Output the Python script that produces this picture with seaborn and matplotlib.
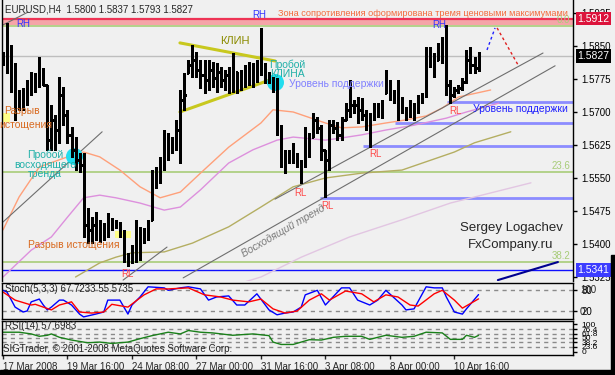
import numpy as np
import pandas as pd
import matplotlib
matplotlib.use("Agg")
import matplotlib.pyplot as plt
import seaborn as sns
from matplotlib.patches import Rectangle

# ---- price data (EURUSD H4), one entry per bar ----
highs = [
    1.5836, 1.5902, 1.5852, 1.5811, 1.5750, 1.5755, 1.5773, 1.5791, 1.5789, 1.5825,
    1.5800, 1.5761, 1.5716, 1.5693, 1.5780, 1.5757, 1.5705, 1.5666, 1.5643, 1.5607,
    1.5607, 1.5482, 1.5461, 1.5473, 1.5455, 1.5448, 1.5470, 1.5459, 1.5455, 1.5450,
    1.5432, 1.5380, 1.5398, 1.5455, 1.5439, 1.5436, 1.5455, 1.5568, 1.5575, 1.5598,
    1.5659, 1.5652, 1.5643, 1.5682, 1.5750, 1.5789, 1.5818, 1.5852, 1.5836, 1.5818,
    1.5818, 1.5818, 1.5814, 1.5811, 1.5802, 1.5795, 1.5802, 1.5834, 1.5791, 1.5795,
    1.5807, 1.5814, 1.5811, 1.5818, 1.5891, 1.5811, 1.5791, 1.5780, 1.5777, 1.5670,
    1.5614, 1.5614, 1.5630, 1.5607, 1.5591, 1.5666, 1.5652, 1.5698, 1.5689, 1.5670,
    1.5614, 1.5682, 1.5682, 1.5677, 1.5689, 1.5720, 1.5773, 1.5727, 1.5734, 1.5732,
    1.5705, 1.5698, 1.5720, 1.5720, 1.5727, 1.5795, 1.5773, 1.5750, 1.5773, 1.5734,
    1.5711, 1.5727, 1.5720, 1.5739, 1.5743, 1.5848, 1.5848, 1.5834, 1.5857, 1.5870,
    1.5898, 1.5773, 1.5757, 1.5761, 1.5777, 1.5841, 1.5848, 1.5825, 1.5837]
lows = [
    1.5807, 1.5789, 1.5745, 1.5682, 1.5705, 1.5705, 1.5716, 1.5739, 1.5745, 1.5757,
    1.5761, 1.5614, 1.5614, 1.5614, 1.5630, 1.5670, 1.5630, 1.5598, 1.5568, 1.5564,
    1.5416, 1.5402, 1.5402, 1.5409, 1.5405, 1.5409, 1.5416, 1.5432, 1.5436, 1.5416,
    1.5359, 1.5350, 1.5357, 1.5359, 1.5364, 1.5402, 1.5409, 1.5455, 1.5527, 1.5539,
    1.5568, 1.5591, 1.5607, 1.5614, 1.5584, 1.5705, 1.5789, 1.5780, 1.5780, 1.5755,
    1.5743, 1.5750, 1.5757, 1.5745, 1.5757, 1.5750, 1.5743, 1.5745, 1.5743, 1.5750,
    1.5757, 1.5761, 1.5757, 1.5768, 1.5784, 1.5766, 1.5766, 1.5745, 1.5648, 1.5575,
    1.5561, 1.5584, 1.5584, 1.5575, 1.5539, 1.5575, 1.5598, 1.5643, 1.5652, 1.5591,
    1.5507, 1.5568, 1.5652, 1.5636, 1.5636, 1.5682, 1.5689, 1.5698, 1.5675, 1.5682,
    1.5659, 1.5620, 1.5682, 1.5689, 1.5686, 1.5743, 1.5727, 1.5720, 1.5682, 1.5698,
    1.5682, 1.5689, 1.5682, 1.5698, 1.5720, 1.5734, 1.5802, 1.5780, 1.5818, 1.5811,
    1.5739, 1.5720, 1.5734, 1.5743, 1.5750, 1.5766, 1.5789, 1.5789, 1.5793]
closes = [
    1.5818, 1.5841, 1.5784, 1.5739, 1.5727, 1.5739, 1.5755, 1.5768, 1.5777, 1.5773,
    1.5761, 1.5636, 1.5682, 1.5659, 1.5739, 1.5693, 1.5648, 1.5614, 1.5591, 1.5580,
    1.5443, 1.5432, 1.5443, 1.5427, 1.5436, 1.5432, 1.5455, 1.5443, 1.5445, 1.5420,
    1.5375, 1.5364, 1.5386, 1.5420, 1.5427, 1.5420, 1.5443, 1.5545, 1.5557, 1.5580,
    1.5614, 1.5625, 1.5636, 1.5659, 1.5727, 1.5739, 1.5807, 1.5818, 1.5795, 1.5784,
    1.5773, 1.5795, 1.5777, 1.5791, 1.5773, 1.5784, 1.5761, 1.5795, 1.5773, 1.5784,
    1.5777, 1.5795, 1.5784, 1.5800, 1.5807, 1.5784, 1.5777, 1.5761, 1.5659, 1.5602,
    1.5591, 1.5602, 1.5591, 1.5586, 1.5580, 1.5636, 1.5625, 1.5682, 1.5664, 1.5614,
    1.5591, 1.5670, 1.5664, 1.5648, 1.5682, 1.5705, 1.5716, 1.5716, 1.5705, 1.5693,
    1.5682, 1.5686, 1.5705, 1.5709, 1.5720, 1.5761, 1.5745, 1.5739, 1.5727, 1.5709,
    1.5705, 1.5716, 1.5709, 1.5727, 1.5739, 1.5830, 1.5818, 1.5807, 1.5841, 1.5852,
    1.5761, 1.5739, 1.5750, 1.5755, 1.5768, 1.5818, 1.5807, 1.5800, 1.5827]
first_open = 1.5830

# moving averages (bar index, price)
ma_orange_idx = [0, 4, 9, 16, 20, 24, 29, 34, 39, 44, 49, 56, 64, 67, 72, 80, 84, 89, 95, 100, 105, 109, 113, 121]
ma_orange = [1.5432, 1.5507, 1.5575, 1.5598, 1.5609, 1.5598, 1.5568, 1.5530, 1.5505, 1.5518, 1.5561, 1.5620,
             1.5675, 1.5705, 1.5700, 1.5675, 1.5664, 1.5666, 1.5675, 1.5682, 1.5691, 1.5709, 1.5734, 1.5750]
ma_violet_idx = [0, 7, 12, 16, 20, 24, 28, 34, 40, 44, 49, 56, 62, 68, 72, 80, 84, 89, 95, 102, 110, 115, 123]
ma_violet = [1.5325, 1.5386, 1.5416, 1.5461, 1.5505, 1.5511, 1.5505, 1.5493, 1.5477, 1.5484, 1.5523, 1.5584,
             1.5614, 1.5636, 1.5643, 1.5636, 1.5641, 1.5648, 1.5659, 1.5670, 1.5686, 1.5700, 1.5720]
ma_olive_idx = [18, 24, 28, 32, 40, 47, 56, 64, 72, 80, 89, 99, 112, 117, 126]
ma_olive = [1.5325, 1.5357, 1.5370, 1.5380, 1.5382, 1.5402, 1.5439, 1.5484, 1.5530, 1.5550, 1.5561, 1.5568,
            1.5609, 1.5630, 1.5655]
ma_thistle_idx = [59, 64, 74, 86, 99, 111, 131]
ma_thistle = [1.5311, 1.5325, 1.5370, 1.5416, 1.5455, 1.5493, 1.5539]

# stochastic (5,3,3)
stoch_idx = [0, 1, 3, 5, 6, 7, 9, 10, 11, 12, 14, 15, 17, 19, 20, 23, 25, 26, 29, 31,
             32, 34, 36, 40, 41, 44, 46, 49, 51, 53, 56, 58, 60, 63, 66, 68, 70, 72, 74, 75,
             78, 80, 84, 86, 88, 91, 93, 95, 99, 100, 102, 105, 107, 109, 110, 112, 114, 115, 118]
stoch_k = [80, 75, 32, 18, 21, 47, 55, 38, 24, 32, 52, 52, 38, 12, 4, 12, 18, 52, 52, 12,
           38, 61, 90, 87, 80, 87, 90, 84, 52, 61, 64, 38, 38, 70, 24, 10, 15, 18, 32, 67,
           80, 38, 87, 87, 52, 38, 52, 80, 38, 24, 27, 90, 87, 87, 61, 18, 12, 27, 67.72]
signal_idx = [0, 3, 7, 8, 12, 14, 17, 19, 22, 25, 27, 31, 35, 38, 41, 46, 50, 54, 57, 61,
              64, 67, 70, 73, 76, 79, 81, 85, 89, 92, 95, 98, 101, 103, 107, 109, 112, 114, 118]
stoch_d = [75, 52, 38, 40, 24, 38, 47, 18, 15, 18, 40, 32, 67, 84, 84, 87, 67, 61, 52, 47,
           55, 27, 15, 21, 52, 70, 52, 78, 70, 47, 67, 61, 38, 35, 70, 80, 52, 29, 55.57]

# RSI(14)
rsi_idx = [0, 4, 7, 9, 11, 12, 14, 17, 21, 24, 27, 31, 34, 37, 41, 44, 46, 49, 52, 57,
           62, 66, 67, 69, 72, 74, 76, 79, 82, 85, 89, 91, 95, 99, 102, 105, 109, 111, 114, 115, 117, 118]
rsi = [67, 67, 62, 55, 58, 62, 52, 44, 36, 38, 34, 38, 48, 57, 67, 62, 72, 67, 65, 58,
       62, 57, 38, 31, 31, 38, 45, 44, 52, 55, 55, 46, 58, 52, 55, 67, 65, 46, 46, 58, 52, 57.70]

date_idx = [0, 16, 32, 48, 64, 80, 96, 112]
date_labels = ["17 Mar 2008", "19 Mar 16:00", "24 Mar 08:00", "27 Mar 00:00",
               "31 Mar 16:00", "3 Apr 08:00", "8 Apr 00:00", "10 Apr 16:00"]
price_ticks = [1.5925, 1.5850, 1.5775, 1.5700, 1.5625, 1.5550, 1.5475, 1.5400, 1.5325]

resist_top, resist_bottom = 1.5911, 1.5897
fib_levels = [(1.5895, "0.0"), (1.5564, "23.6"), (1.5359, "38.2")]
support_levels = [(1.5723, 110.2), (1.5675, 97.3), (1.5623, 89.3), (1.5505, 78.7)]
blue_level = 1.5341
last_price = 1.5827

# ---- drawing ----
BG = "#F0F0F0"
sns.set_style("white")
plt.rcParams["font.family"] = ["Liberation Sans", "DejaVu Sans"]
plt.rcParams["font.size"] = 7

W, H = 615, 375
def fx(x): return x / W
def fy(y): return 1 - y / H

fig = plt.figure(figsize=(6.15, 3.75), dpi=100, facecolor=BG)
ax = fig.add_axes([fx(2), fy(281), 571 / W, 281 / H], facecolor=BG)
ax2 = fig.add_axes([fx(2), fy(319), 571 / W, 36 / H], facecolor=BG, sharex=ax)
ax3 = fig.add_axes([fx(2), fy(355), 571 / W, 34 / H], facecolor=BG, sharex=ax)

n = len(closes)
idx = np.arange(n)
opens = np.clip(np.r_[first_open, closes[:-1]], lows, highs)

ax.set_xlim(-0.25, 141.44)
ax.set_ylim(1.53159, 1.59545)

# levels and zones
ax.axhspan(resist_bottom, resist_top, color="#F5A5A8", lw=0, zorder=1)
ax.axhline(resist_top, color="#EE3355", lw=1.6, zorder=1)
for lvl, lab in fib_levels:
    ax.axhline(lvl, color="#A8CC78", lw=1.2, zorder=1)
    ax.text(140.7, lvl + 0.0002, lab, color="#A8CC78", ha="right", va="bottom", fontsize=7)
ax.axhline(last_price, color="#BEBEBE", lw=1, zorder=1)
ax.axhline(blue_level, color="#1010FF", lw=1, zorder=1)
for lvl, start in support_levels:
    ax.hlines(lvl, start, 141.44, color="#8C8CFF", lw=2, zorder=1)

# moving averages
sns.lineplot(x=ma_thistle_idx, y=ma_thistle, ax=ax, color="#E2C6E2", lw=1, sort=False, estimator=None)
sns.lineplot(x=ma_olive_idx, y=ma_olive, ax=ax, color="#B4AE62", lw=1, sort=False, estimator=None)
sns.lineplot(x=ma_violet_idx, y=ma_violet, ax=ax, color="#DD90DD", lw=1, sort=False, estimator=None)
sns.lineplot(x=ma_orange_idx, y=ma_orange, ax=ax, color="#FFA07A", lw=1, sort=False, estimator=None)

# trend lines
grey_lines = [((0, 6.2), (1.5898, 1.5927)), ((0, 24.6), (1.5450, 1.5655)),
              ((29.8, 40.7), (1.5318, 1.5393)), ((44.7, 137), (1.5323, 1.5805)),
              ((67.5, 134), (1.5502, 1.5834))]
for xs, ys in grey_lines:
    ax.plot(xs, ys, color="#6E6E6E", lw=0.8, zorder=2)
ax.plot([43.9, 67.5], [1.5857, 1.5816], color="#C8C81E", lw=2.2, zorder=3)
ax.plot([43.9, 67.5], [1.5700, 1.5777], color="#C8C81E", lw=2.2, zorder=3)
ax.plot([120.1, 122.1], [1.5841, 1.5891], color="#2020FF", lw=1, ls=(0, (2, 2)))
ax.plot([122.6, 127.8], [1.5891, 1.5807], color="#E02020", lw=1, ls=(0, (2, 2)))
ax.plot([122.8, 137.7], [1.5318, 1.5359], color="#000090", lw=1.5)

# markers
ax.add_patch(Rectangle((-1, 1.5677), 2.7, 0.0021, color="#FFFF88", lw=0, zorder=2))
ax.add_patch(Rectangle((27.8, 1.5414), 4.0, 0.0016, color="#FFFF88", lw=0, zorder=2))
ax.scatter([67.5, 17.6], [1.5768, 1.5600], s=150, color="#22DDEE", lw=0, zorder=3)

# OHLC bars
ax.vlines(idx, lows, highs, color="black", lw=1, zorder=4, antialiased=False)
ax.hlines(opens, idx - 0.3, idx, color="black", lw=1, zorder=4, antialiased=False)
ax.hlines(closes, idx, idx + 0.3, color="black", lw=1, zorder=4, antialiased=False)

# axes styling
for a in (ax, ax2, ax3):
    for s in a.spines.values():
        s.set_color("black")
        s.set_linewidth(1)
    a.yaxis.tick_right()
    a.tick_params(axis="y", length=3, width=1, pad=3, labelsize=7, colors="black", right=True)
    a.tick_params(axis="x", bottom=False, labelbottom=False)
ax.spines["top"].set_visible(False)
ax.spines["bottom"].set_visible(False)
ax.set_yticks(price_ticks)
ax.set_yticklabels([f"{p:.4f}" for p in price_ticks])

for price, fc in [(resist_top + 0.0001, "#DC143C"), (last_price, "black"), (blue_level, "#3C3CFF")]:
    ax.text(1.008, price, f"{price:.4f}", transform=ax.get_yaxis_transform(), color="white",
            fontsize=7.5, va="center", ha="left", clip_on=False, zorder=10,
            bbox=dict(facecolor=fc, edgecolor="none", pad=1.2))

# stochastic panel
ax2.set_ylim(-2, 100.9)
for lvl in (80, 20):
    ax2.axhline(lvl, color="#8A8A8A", lw=1, ls=(0, (3, 3)))
sns.lineplot(x=stoch_idx, y=stoch_k, ax=ax2, color="#0000FF", lw=1, sort=False, estimator=None)
sns.lineplot(x=signal_idx, y=stoch_d, ax=ax2, color="#FF0000", lw=1, sort=False, estimator=None)
ax2.set_yticks([80, 20])
ax2.set_yticklabels(["80", "20"])
ax2.text(1.012, 81, "100", transform=ax2.get_yaxis_transform(), fontsize=7, va="center")
ax2.text(1.012, 18, "0", transform=ax2.get_yaxis_transform(), fontsize=7, va="center")

# RSI panel
ax3.set_ylim(0, 100)
rsi_levels = [76.4, 61.8, 50, 38.2, 23.6]
for lvl in rsi_levels:
    ax3.axhline(lvl, color="#8A8A8A", lw=1, ls=(0, (3, 3)))
sns.lineplot(x=rsi_idx, y=rsi, ax=ax3, color="#1A801A", lw=1, sort=False, estimator=None)
ax3.set_yticks([90] + rsi_levels + [10])
ax3.set_yticklabels(["100"] + [f"{v:g}" for v in rsi_levels] + ["0"])
ax3.tick_params(axis="y", labelsize=6)
ax3.tick_params(axis="x", bottom=True, labelbottom=True, length=3, width=1, pad=2, labelsize=7)
ax3.set_xticks(date_idx)
ax3.set_xticklabels(date_labels, ha="left")

for a in (ax, ax2, ax3):
    a.set_xlabel("")
    a.set_ylabel("")

# texts
fig.text(fx(5), fy(9), "EURUSD,H4  1.5800 1.5837 1.5793 1.5827", fontsize=7, va="center")
fig.text(fx(278), fy(13), "Зона сопротивления оформирована тремя ценовыми максимумами",
         color="#F46A3C", fontsize=6.6, va="center")
for x, y in [(23, 24), (259, 15), (439, 25)]:
    fig.text(fx(x), fy(y), "RH", color="#3434FF", fontsize=7, ha="center", va="center")
for x, y in [(127, 274), (300, 193), (327, 206), (375, 154), (455, 111)]:
    fig.text(fx(x), fy(y), "RL", color="#FF4A4A", fontsize=7, ha="center", va="center")
fig.text(fx(235), fy(41), "КЛИН", color="#8B8B00", fontsize=8, ha="center", va="center")
fig.text(fx(287), fy(65), "Пробой", color="#20B0A8", fontsize=7.5, ha="center", va="center")
fig.text(fx(287), fy(74), "КЛИНА", color="#20B0A8", fontsize=7.5, ha="center", va="center")
fig.text(fx(289), fy(84), "Уровень поддержки", color="#8080FF", fontsize=7.5, va="center")
fig.text(fx(473), fy(109), "Уровень поддержки", color="#2020FF", fontsize=7.5, va="center")
for y, t in [(155, "Пробой"), (165, "восходящего"), (174, "тренда")]:
    fig.text(fx(45), fy(y), t, color="#20B0A8", fontsize=7.5, ha="center", va="center")
fig.text(fx(22), fy(111), "Разрыв", color="#D96A20", fontsize=7.5, ha="center", va="center")
fig.text(fx(26), fy(125), "истощения", color="#D96A20", fontsize=7.5, ha="center", va="center")
fig.text(fx(74), fy(245), "Разрыв истощения", color="#D96A20", fontsize=7.5, ha="center", va="center")
fig.text(fx(283), fy(231), "Восходящий тренд", color="#7A7A7A", fontsize=7.5, style="italic",
         ha="center", va="center", rotation=30, rotation_mode="anchor")
fig.text(fx(511), fy(228), "Sergey Logachev", fontsize=9.5, ha="center", va="center")
fig.text(fx(511), fy(245), "FxCompany.ru", fontsize=9.5, ha="center", va="center")
fig.text(fx(5), fy(289), "Stoch(5,3,3) 67.7233 55.5735", fontsize=7, va="center")
fig.text(fx(5), fy(326), "RSI(14) 57.6983", fontsize=7, va="center")
fig.text(fx(3), fy(349), "SIGTrader, © 2001-2008 MetaQuotes Software Corp.", fontsize=7, va="center")

# window frame
fig.patches.append(Rectangle((0, 0), 1, 5 / H, transform=fig.transFigure, color="black"))
fig.patches.append(Rectangle((fx(611), 0), 4 / W, 120 / H, transform=fig.transFigure, color="black"))

fig.savefig("out.png", dpi=100, facecolor=BG)
